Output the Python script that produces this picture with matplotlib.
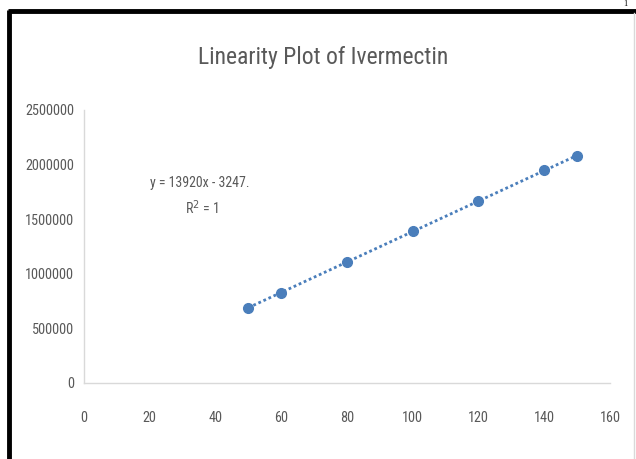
import numpy as np
import matplotlib.pyplot as plt
from matplotlib import font_manager
from matplotlib.lines import Line2D

# pick the narrowest installed family available
installed = {f.name for f in font_manager.fontManager.ttflist}
narrow = 'Liberation Sans'
for cand in ['Liberation Sans Narrow', 'Roboto Condensed', 'Open Sans Condensed',
             'Noto Sans Condensed', 'Liberation Sans']:
    if cand in installed:
        narrow = cand
        break
plt.rcParams['font.family'] = [narrow, 'DejaVu Sans']

conc = [50, 60, 80, 100, 120, 140, 150]
area = [690000, 826000, 1110000, 1388000, 1665000, 1946000, 2082000]
x_ticks = [0, 20, 40, 60, 80, 100, 120, 140, 160]
y_ticks = [0, 500000, 1000000, 1500000, 2000000, 2500000]

grey = '#595959'
blue = '#4a7ebb'

fig = plt.figure(figsize=(6.36, 4.59), dpi=100)
ax = fig.add_axes([0.132, 0.1656, 0.827, 0.5948])

# linear trendline over data range
slope, icpt = np.polyfit(conc, area, 1)
xs = np.array([min(conc), max(conc)])
ax.plot(xs, slope * xs + icpt, linestyle=(0, (1, 1)), color=blue, lw=2)
ax.plot(conc, area, 'o', color=blue, ms=7, mec=blue)

ax.set_xlim(0, 160)
ax.set_ylim(0, 2500000)
ax.set_xticks(x_ticks)
ax.set_yticks(y_ticks)
ax.set_xticklabels([str(v) for v in x_ticks])
ax.set_yticklabels([str(v) for v in y_ticks])
ax.tick_params(axis='both', length=0, colors=grey, labelsize=10.3)
ax.tick_params(axis='x', pad=20)
ax.tick_params(axis='y', pad=7)
for s in ['top', 'right']:
    ax.spines[s].set_visible(False)
for s in ['left', 'bottom']:
    ax.spines[s].set_color('#d9d9d9')
    ax.spines[s].set_linewidth(1)

ax.text(0.221, 0.733, 'y = 13920x - 3247.', transform=ax.transAxes,
        ha='center', va='center', color=grey, fontsize=10)
ax.text(0.223, 0.641, 'R$^2$ = 1', transform=ax.transAxes,
        ha='center', va='center', color=grey, fontsize=10)

fig.text(0.508, 0.874, 'Linearity Plot of Ivermectin', ha='center', va='center',
         color=grey, fontsize=17)

# black frame of the pasted figure
fig.add_artist(Line2D([0.0125, 1.0], [0.976, 0.976], color='black', lw=3.5,
                      transform=fig.transFigure, solid_capstyle='butt'))
fig.add_artist(Line2D([0.0140, 0.0140], [0.0, 0.979], color='black', lw=3.5,
                      transform=fig.transFigure, solid_capstyle='butt'))
fig.add_artist(Line2D([0.997, 0.997], [0.0, 0.972], color='#d9d9d9', lw=1,
                      transform=fig.transFigure))
fig.text(0.983, 0.999, '1', ha='center', va='top', fontsize=6,
         family='Liberation Serif')

fig.savefig('out.png', dpi=100)
